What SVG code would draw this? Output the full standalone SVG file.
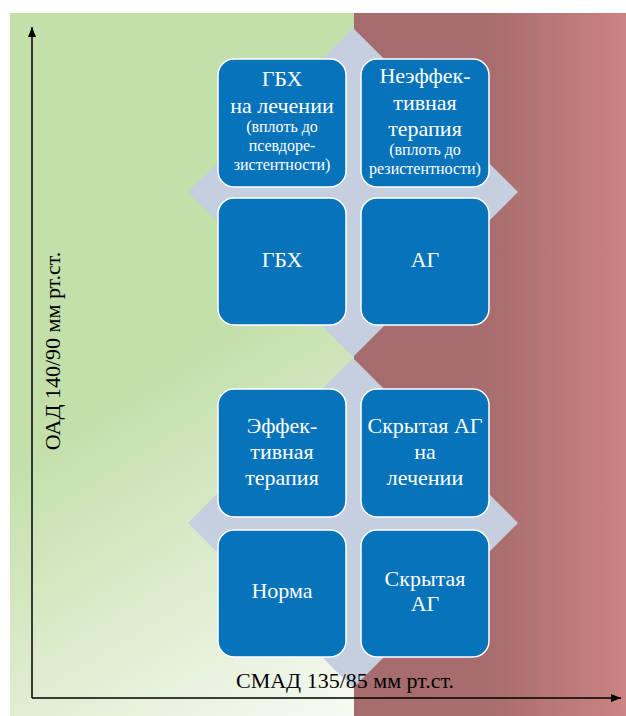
<svg xmlns="http://www.w3.org/2000/svg" width="626" height="716" viewBox="0 0 626 716">
<defs>
<linearGradient id="gGreen" gradientUnits="userSpaceOnUse" x1="150" y1="380" x2="354" y2="716">
<stop offset="0" stop-color="#c3dfaa"/>
<stop offset="1" stop-color="#f7faf3"/>
</linearGradient>
<linearGradient id="gRed" gradientUnits="userSpaceOnUse" x1="354" y1="0" x2="626" y2="0">
<stop offset="0" stop-color="#a66b6c"/>
<stop offset="0.5" stop-color="#a86d6e"/>
<stop offset="1" stop-color="#cc8383"/>
</linearGradient>
<marker id="arr" viewBox="0 0 10 10" refX="10" refY="5" markerWidth="10" markerHeight="10" markerUnits="userSpaceOnUse" orient="auto">
<path d="M0,1 L10,5 L0,9 Z" fill="#000"/>
</marker>
</defs>
<style>
.box{fill:#0673bb;stroke:#ffffff;stroke-width:1.5}
.dia{fill:#c5cfdf}
text{font-family:'Liberation Serif','Times New Roman',serif}
.t{fill:#ffffff;text-anchor:middle;font-size:22px}
.s{font-size:16px}
.ax{stroke:#000;stroke-width:1.5;fill:none}
.lab{fill:#000;text-anchor:middle;font-size:22px}
</style>
<rect x="10" y="13" width="344" height="703" fill="url(#gGreen)"/>
<rect x="354" y="13" width="272" height="703" fill="url(#gRed)"/>
<polygon class="dia" points="353,28 518,192 353,357 188,192"/>
<polygon class="dia" points="353,358 518,523 353,688 188,523"/>
<g id="connectors">
<line class="ax" x1="32" y1="698" x2="32" y2="27" marker-end="url(#arr)"/>
<line class="ax" x1="32" y1="698" x2="621" y2="698" marker-end="url(#arr)"/>
</g>
<g id="axis-y-label" font-family="Liberation Serif, serif"><text class="lab" transform="translate(60,351) rotate(-90)">ОАД 140/90 мм рт.ст.</text></g>
<g id="axis-x-label" font-family="Liberation Serif, serif"><text class="lab" x="345" y="688">СМАД 135/85 мм рт.ст.</text></g>
<g id="node-gbh-treat" font-family="Liberation Serif, serif">
<rect class="box" x="218" y="59" width="128" height="128" rx="16"/>
<text class="t" x="282" y="86">ГБХ</text>
<text class="t" x="282" y="113">на лечении</text>
<text class="t s" x="282" y="132">(вплоть до</text>
<text class="t s" x="282" y="151">псевдоре-</text>
<text class="t s" x="282" y="170">зистентности)</text>
</g>
<g id="node-ineffective" font-family="Liberation Serif, serif">
<rect class="box" x="361" y="59" width="128" height="128" rx="16"/>
<text class="t" x="425" y="83">Неэффек-</text>
<text class="t" x="425" y="110">тивная</text>
<text class="t" x="425" y="136">терапия</text>
<text class="t s" x="425" y="155">(вплоть до</text>
<text class="t s" x="425" y="174">резистентности)</text>
</g>
<g id="node-gbh" font-family="Liberation Serif, serif">
<rect class="box" x="218" y="198" width="128" height="127" rx="16"/>
<text class="t" x="282" y="267">ГБХ</text>
</g>
<g id="node-ag" font-family="Liberation Serif, serif">
<rect class="box" x="361" y="198" width="128" height="127" rx="16"/>
<text class="t" x="425" y="267">АГ</text>
</g>
<g id="node-effective" font-family="Liberation Serif, serif">
<rect class="box" x="218" y="389" width="128" height="128" rx="16"/>
<text class="t" x="282" y="433">Эффек-</text>
<text class="t" x="282" y="459">тивная</text>
<text class="t" x="282" y="485">терапия</text>
</g>
<g id="node-masked-treat" font-family="Liberation Serif, serif">
<rect class="box" x="361" y="389" width="128" height="128" rx="16"/>
<text class="t" x="425" y="433">Скрытая АГ</text>
<text class="t" x="425" y="459">на</text>
<text class="t" x="425" y="485">лечении</text>
</g>
<g id="node-norm" font-family="Liberation Serif, serif">
<rect class="box" x="218" y="530" width="128" height="127" rx="16"/>
<text class="t" x="282" y="598">Норма</text>
</g>
<g id="node-masked" font-family="Liberation Serif, serif">
<rect class="box" x="361" y="530" width="128" height="127" rx="16"/>
<text class="t" x="425" y="586">Скрытая</text>
<text class="t" x="425" y="611">АГ</text>
</g>
</svg>
